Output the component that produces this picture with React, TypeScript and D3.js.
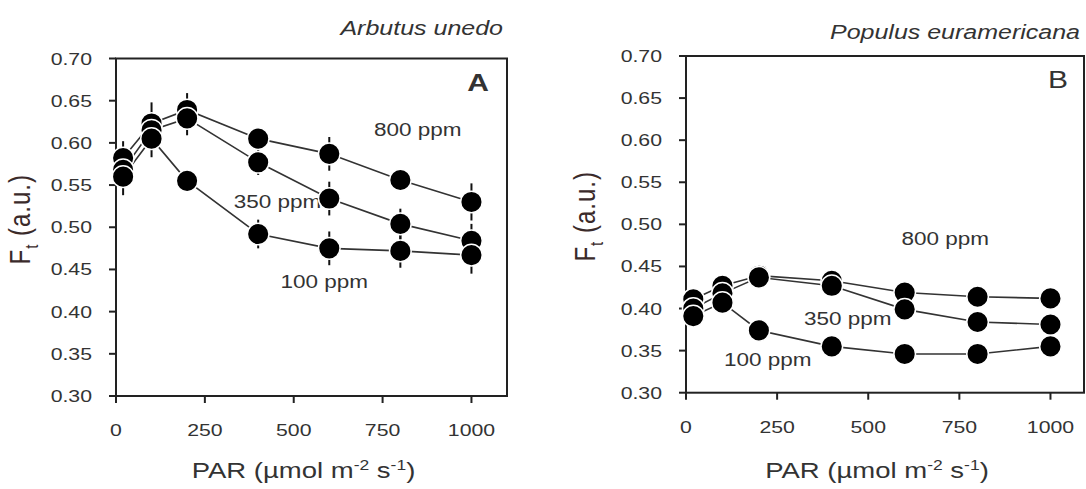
import React from "react";
import * as d3 from "d3";

// ---- data ----
const PAR = [20, 100, 200, 400, 600, 800, 1000];
const X_TICKS = [0, 250, 500, 750, 1000];
const Y_TICKS = [0.3, 0.35, 0.4, 0.45, 0.5, 0.55, 0.6, 0.65, 0.7];
const CO2 = ["800 ppm", "350 ppm", "100 ppm"];

const A800 = [0.582, 0.623, 0.639, 0.605, 0.587, 0.556, 0.53];
const A350 = [0.568, 0.615, 0.629, 0.577, 0.534, 0.504, 0.484];
const A100 = [0.56, 0.605, 0.555, 0.492, 0.475, 0.472, 0.467];
const A800_ERR = [0.02, 0.025, 0.02, 0.008, 0.02, 0.01, 0.022];
const A350_ERR = [0.012, 0.02, 0.02, 0.015, 0.02, 0.018, 0.02];
const A100_ERR = [0.022, 0.022, 0.01, 0.017, 0.02, 0.02, 0.022];

const B800 = [0.411, 0.427, 0.439, 0.433, 0.419, 0.414, 0.412];
const B350 = [0.4, 0.418, 0.437, 0.427, 0.399, 0.384, 0.381];
const B100 = [0.391, 0.407, 0.374, 0.355, 0.346, 0.346, 0.355];
const B800_ERR = [0.008, 0.008, 0.006, 0.006, 0.006, 0.012, 0.012];
const B350_ERR = [0.008, 0.006, 0.006, 0.006, 0.006, 0.006, 0.006];
const B100_ERR = [0.008, 0.006, 0.006, 0.006, 0.006, 0.006, 0.006];

const SX = 1.25; // horizontal stretch of the original figure
const FONT = "'Liberation Sans', Arial, sans-serif";
const TXT = "#333";

type PanelProps = {
  left: number; right: number; top: number; bottom: number; xMax: number;
  series: number[][]; errs: number[][];
  title: string; letter: string; letterBold: boolean;
  titleX: number; titleY: number;
  labelPos: [number, number][]; letterPos: [number, number];
  ftX: number; parY: number;
};

function T(props: { x: number; y: number; size: number; anchor?: string; italic?: boolean; bold?: boolean; children: React.ReactNode; fill?: string }) {
  const { x, y, size, anchor = "middle", italic, bold, children, fill = TXT } = props;
  return (
    <text
      transform={`translate(${x},${y}) scale(${SX},1)`}
      fontFamily={FONT}
      fontSize={size}
      textAnchor={anchor}
      fontStyle={italic ? "italic" : "normal"}
      fontWeight={bold ? "bold" : "normal"}
      fill={fill}
    >
      {children}
    </text>
  );
}

function Panel(p: PanelProps) {
  const x = d3.scaleLinear().domain([0, p.xMax]).range([p.left, p.right]);
  const y = d3.scaleLinear().domain([0.3, 0.7]).range([p.bottom, p.top]);
  const line = d3.line<number>().x((_, i) => x(PAR[i])).y((d) => y(d));
  const r = 10.8;
  const cx = (p.left + p.right) / 2;
  return (
    <g>
      <T x={p.titleX} y={p.titleY} size={20} italic anchor="end">{p.title}</T>
      {/* frame */}
      <rect x={p.left} y={p.top} width={p.right - p.left} height={p.bottom - p.top} fill="none" stroke="#222" strokeWidth={2} />
      {/* y ticks */}
      {Y_TICKS.map((t) => (
        <g key={t}>
          <line x1={p.left - 7} x2={p.left} y1={y(t)} y2={y(t)} stroke="#222" strokeWidth={2} />
          <T x={p.left - 24} y={y(t) + 6} size={17} anchor="end">{t.toFixed(2)}</T>
        </g>
      ))}
      {X_TICKS.map((t) => (
        <g key={t}>
          <line x1={x(t)} x2={x(t)} y1={p.bottom} y2={p.bottom + 7} stroke="#222" strokeWidth={2} />
          <T x={x(t)} y={p.bottom + 40} size={17}>{t}</T>
        </g>
      ))}
      {/* annotations */}
      {CO2.map((c, i) => (
        <T key={c} x={x(p.labelPos[i][0])} y={y(p.labelPos[i][1]) + 6} size={18}>{c}</T>
      ))}
      <T x={x(p.letterPos[0])} y={y(p.letterPos[1]) + 9} size={24} bold={p.letterBold}>{p.letter}</T>
      {/* lines */}
      {p.series.map((s, si) => (
        <path key={si} d={line(s) || ""} fill="none" stroke="#333" strokeWidth={1.6} />
      ))}
      {/* error bars */}
      {p.series.map((s, si) =>
        s.map((v, i) => (
          <line key={`${si}-${i}`} x1={x(PAR[i])} x2={x(PAR[i])} y1={y(v - p.errs[si][i])} y2={y(v + p.errs[si][i])} stroke="#111" strokeWidth={2} />
        ))
      )}
      {/* markers */}
      {p.series.map((s, si) =>
        s.map((v, i) => (
          <circle key={`m${si}-${i}`} cx={x(PAR[i])} cy={y(v)} r={r} fill="#000" stroke="#fff" strokeWidth={1.5} />
        ))
      )}
      {/* axis titles */}
      <text transform={`translate(${p.ftX},${(p.top + p.bottom) / 2 - 8}) scale(${SX},1) rotate(-90)`} fontFamily={FONT} fontSize={24} letterSpacing={1} textAnchor="middle" fill="#3a2a2a">
        <tspan>F</tspan>
        <tspan fontSize={15} dy={6}>t</tspan>
        <tspan dy={-6}> (a.u.)</tspan>
      </text>
      <text transform={`translate(${cx - 8},${p.parY}) scale(${SX},1)`} fontFamily={FONT} fontSize={22} textAnchor="middle" fill={TXT}>
        <tspan>PAR (µmol m</tspan>
        <tspan fontSize={14} dy={-8}>-2</tspan>
        <tspan dy={8}> s</tspan>
        <tspan fontSize={14} dy={-8}>-1</tspan>
        <tspan dy={8}>)</tspan>
      </text>
    </g>
  );
}

export default function App() {
  return (
    <svg width={1086} height={489} style={{ position: "absolute", left: 0, top: 0, background: "#fff" }}>
      <rect width={1086} height={489} fill="#fff" />
      <Panel
        left={116} right={507} top={58.5} bottom={396} xMax={1100}
        series={[A800, A350, A100]} errs={[A800_ERR, A350_ERR, A100_ERR]}
        title="Arbutus unedo" letter="A" letterBold={true}
        titleX={503} titleY={35}
        labelPos={[[849, 0.615], [454, 0.53], [586, 0.435]]} letterPos={[1019, 0.672]}
        ftX={30} parY={478}
      />
      <Panel
        left={686} right={1084} top={56} bottom={392.7} xMax={1092}
        series={[B800, B350, B100]} errs={[B800_ERR, B350_ERR, B100_ERR]}
        title="Populus euramericana" letter="B" letterBold={false}
        titleX={1080} titleY={39}
        labelPos={[[711, 0.483], [444, 0.388], [224, 0.339]]} letterPos={[1021, 0.673]}
        ftX={595} parY={478}
      />
    </svg>
  );
}
